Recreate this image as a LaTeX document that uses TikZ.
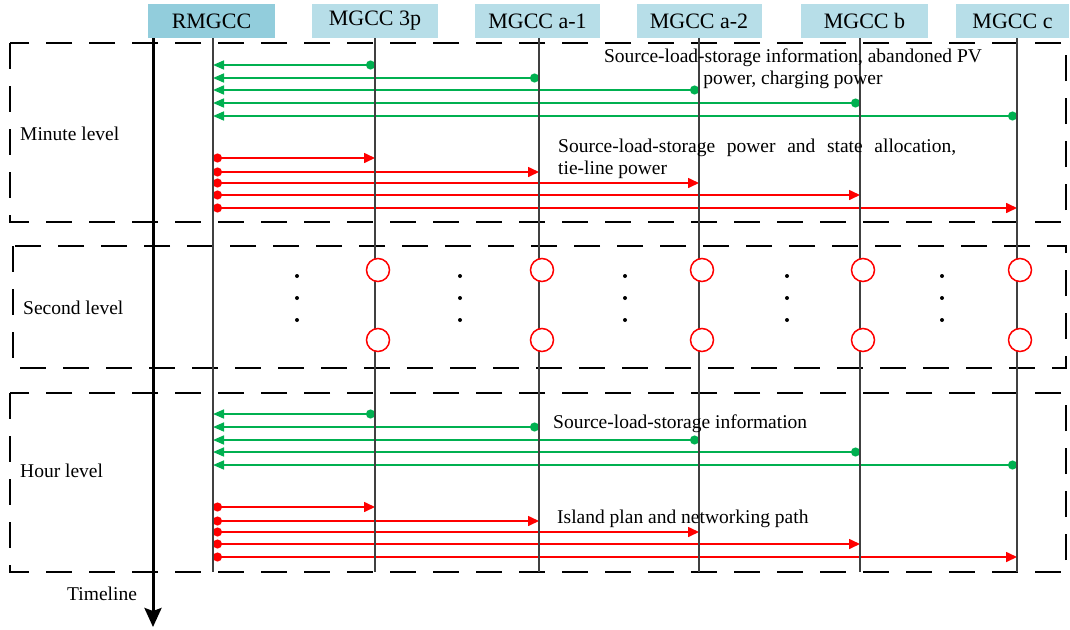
\documentclass[tikz,border=0pt]{standalone}
\usepackage{fontspec}
\setmainfont{Liberation Serif}
\usetikzlibrary{arrows.meta}
\definecolor{hdrdark}{RGB}{146,205,220}
\definecolor{hdrlight}{RGB}{183,222,232}
\definecolor{msggreen}{RGB}{0,176,80}
\definecolor{lifegray}{RGB}{64,64,64}

\begin{document}
\begin{tikzpicture}[x=1pt,y=-1pt,
  hdr/.style={rectangle, inner sep=0pt, minimum height=34pt, font=\fontsize{22}{26}\selectfont},
  lvlbox/.style={draw=black, line width=1.6pt, dash pattern=on 26pt off 17pt},
  lifeline/.style={draw=lifegray, line width=1.3pt},
  greenmsg/.style={draw=msggreen, line width=1.6pt, {Circle[length=9pt]}-{Triangle[length=11pt,width=9pt]}},
  redmsg/.style={draw=red, line width=1.6pt, {Circle[length=9pt]}-{Triangle[length=11pt,width=10pt]}},
  lbl/.style={inner sep=0pt, font=\fontsize{19.5}{22}\selectfont},
  slot/.style={circle, draw=red, fill=white, line width=1.5pt, minimum size=23pt, inner sep=0pt},
  ellip/.style={fill=black}
]
\useasboundingbox (0,0) rectangle (1070,629);

% level frames
\draw[lvlbox] (10,43) rectangle (1066,222);
\draw[lvlbox] (13,246) rectangle (1066,368);
\draw[lvlbox] (10,393) rectangle (1066,572);

% lifeline tops
\coordinate (L0) at (213,38);
\coordinate (L1) at (375,38);
\coordinate (L2) at (539,38);
\coordinate (L3) at (699,38);
\coordinate (L4) at (860,38);
\coordinate (L5) at (1017,38);

% time axis
\coordinate (T0) at (153,38);
\coordinate (T1) at (153,627);
\draw[line width=3pt, -{Stealth[length=19pt,width=17pt,inset=3pt]}] (T0) -- (T1);

% minute level: reports and dispatch
\foreach \k/\y in {1/65,2/78,3/90,4/103,5/116} {
  \draw[greenmsg] (L\k |- 0,\y) -- (L0 |- 0,\y);
}
\foreach \k/\y in {1/158,2/172,3/183,4/195,5/208} {
  \draw[redmsg] (L0 |- 0,\y) -- (L\k |- 0,\y);
}

% hour level: reports and plans
\foreach \k/\y in {1/414,2/427,3/440,4/452,5/465} {
  \draw[greenmsg] (L\k |- 0,\y) -- (L0 |- 0,\y);
}
\foreach \k/\y in {1/507,2/521,3/532,4/544,5/557} {
  \draw[redmsg] (L0 |- 0,\y) -- (L\k |- 0,\y);
}

% lifelines
\foreach \k in {0,...,5} {
  \draw[lifeline] (L\k) -- (L\k |- 0,572);
}

% second level: real-time slots
\foreach \k in {1,...,5} {
  \node[slot] (s\k a) at ([xshift=3pt]L\k |- 0,270) {};
  \node[slot] (s\k b) at ([xshift=3pt]L\k |- 0,340) {};
}
\foreach \x in {297,460,625,787,942} {
  \foreach \y in {276,298,320} {
    \fill[ellip] (\x,\y) circle (2pt);
  }
}

% controller headers
\node[hdr, fill=hdrdark, minimum width=127pt] (h0) at (211.5,21) {RMGCC};
\node[hdr, fill=hdrlight, minimum width=126pt] (h1) at (375,21) {MGCC 3p};
\node[hdr, fill=hdrlight, minimum width=125pt] (h2) at (537.5,21) {MGCC a-1};
\node[hdr, fill=hdrlight, minimum width=125pt] (h3) at (699,21) {MGCC a-2};
\node[hdr, fill=hdrlight, minimum width=127pt] (h4) at (864.5,21) {MGCC b};
\node[hdr, fill=hdrlight, minimum width=113pt] (h5) at (1012.5,21) {MGCC c};

% message texts
\node[lbl, align=center] (minup) at (793,69)
  {Source-load-storage information, abandoned PV\\power, charging power};
\node[lbl, anchor=west, text width=398pt, align=justify] (mindown) at (558,159)
  {Source-load-storage power and state allocation, \mbox{tie-line} power};
\node[lbl, anchor=west] (hourup) at (553,424) {Source-load-storage information};
\node[lbl, anchor=west] (hourdown) at (557,519) {Island plan and networking path};

% level names
\node[lbl, anchor=west] (minlbl) at (20,134) {Minute level};
\node[lbl, anchor=west] (seclbl) at (23,308) {Second level};
\node[lbl, anchor=west] (hourlbl) at (20,471) {Hour level};
\node[lbl, anchor=west] (timelbl) at (67,594) {Timeline};
\end{tikzpicture}
\end{document}
